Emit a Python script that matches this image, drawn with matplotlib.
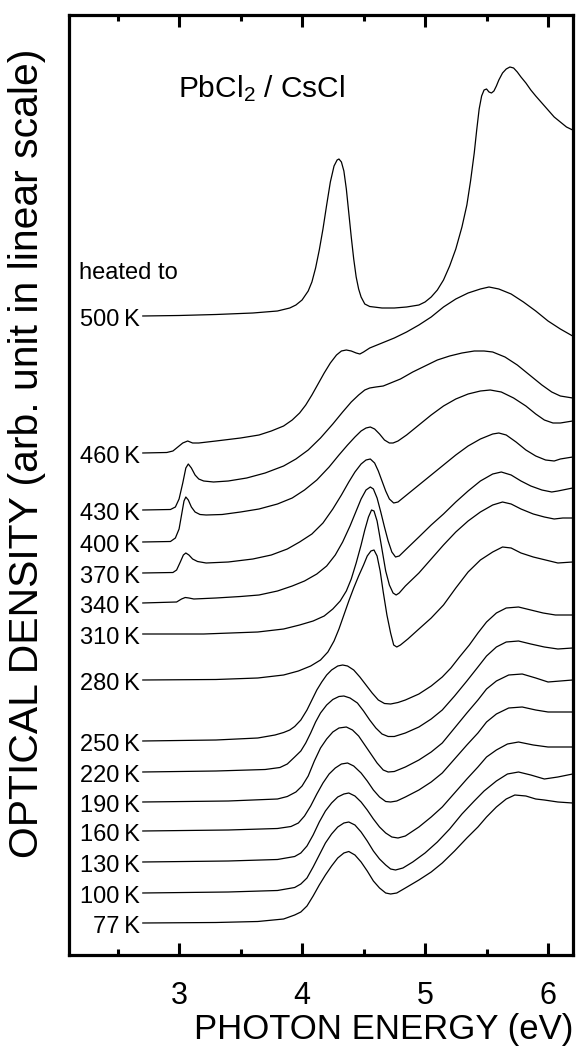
import matplotlib
matplotlib.use("Agg")
import matplotlib.pyplot as plt
from matplotlib.ticker import FixedLocator

plt.rcParams['font.family'] = ['Liberation Sans', 'DejaVu Sans']
plt.rcParams['mathtext.fontset'] = 'custom'
plt.rcParams['mathtext.rm'] = 'Liberation Sans'
plt.rcParams['mathtext.it'] = 'Liberation Sans:italic'

# ---- data (photon energy in eV, optical density in arb. units, stacked) ----
e_500 = [2.70, 3.00, 3.30, 3.60, 3.80, 3.90, 3.95, 4.00, 4.05, 4.08, 4.11, 4.14, 4.17, 4.20, 4.23,
         4.26, 4.285, 4.30, 4.32, 4.34, 4.36, 4.38, 4.40, 4.42, 4.44, 4.46, 4.48, 4.51, 4.55, 4.65,
         4.75, 4.85, 4.95, 5.00, 5.05, 5.10, 5.15, 5.20, 5.25, 5.30, 5.34, 5.37, 5.40, 5.42, 5.44,
         5.46, 5.48, 5.50, 5.52, 5.54, 5.56, 5.58, 5.60, 5.63, 5.66, 5.69, 5.72, 5.75, 5.78, 5.82,
         5.86, 5.90, 5.95, 6.00, 6.05, 6.10, 6.15, 6.20]
od_500 = [63.9, 63.95, 64.05, 64.2, 64.4, 64.7, 65.0, 65.5, 66.4, 67.3, 68.7, 70.5, 72.6, 75.0, 77.3,
          78.9, 79.5, 79.6, 79.3, 78.4, 76.6, 74.2, 71.8, 69.6, 67.8, 66.6, 65.8, 65.1, 64.85, 64.7,
          64.7, 64.8, 65.0, 65.3, 65.8, 66.5, 67.5, 68.9, 70.6, 72.8, 75.0, 77.4, 80.2, 82.5, 84.6,
          85.9, 86.5, 86.6, 86.3, 86.2, 86.4, 86.9, 87.5, 88.2, 88.6, 88.8, 88.7, 88.3, 87.8, 87.2,
          86.5, 85.9, 85.2, 84.5, 83.8, 83.3, 82.8, 82.5]

e_460 = [2.70, 2.90, 2.95, 2.99, 3.03, 3.07, 3.11, 3.16, 3.30, 3.50, 3.65, 3.75, 3.85, 3.92, 3.98,
         4.03, 4.08, 4.13, 4.18, 4.23, 4.28, 4.32, 4.36, 4.40, 4.44, 4.47, 4.50, 4.55, 4.65, 4.75,
         4.85, 4.95, 5.05, 5.15, 5.25, 5.35, 5.45, 5.52, 5.60, 5.70, 5.80, 5.90, 6.00, 6.10, 6.20]
od_460 = [50.2, 50.25, 50.4, 50.8, 51.2, 51.4, 51.2, 51.2, 51.4, 51.7, 52.0, 52.4, 52.9, 53.5, 54.2,
          55.0, 56.0, 57.1, 58.2, 59.2, 60.0, 60.4, 60.5, 60.4, 60.2, 60.1, 60.3, 60.7, 61.2, 61.7,
          62.3, 63.0, 63.8, 64.8, 65.6, 66.2, 66.6, 66.8, 66.6, 66.1, 65.3, 64.4, 63.4, 62.6, 61.9]

e_430 = [2.70, 2.93, 2.97, 3.00, 3.03, 3.055, 3.075, 3.10, 3.13, 3.16, 3.20, 3.28, 3.40, 3.55, 3.70,
         3.85, 3.95, 4.05, 4.15, 4.25, 4.33, 4.40, 4.46, 4.51, 4.55, 4.60, 4.66, 4.72, 4.80, 4.90,
         5.00, 5.10, 5.20, 5.30, 5.40, 5.48, 5.55, 5.65, 5.75, 5.85, 5.95, 6.03, 6.10, 6.20]
od_430 = [44.5, 44.55, 44.8, 45.6, 47.2, 48.7, 49.1, 48.7, 48.0, 47.6, 47.4, 47.3, 47.4, 47.7, 48.2,
          48.9, 49.6, 50.5, 51.7, 53.1, 54.3, 55.3, 56.0, 56.5, 56.7, 56.8, 56.9, 57.2, 57.6, 58.3,
          58.9, 59.5, 59.9, 60.2, 60.4, 60.4, 60.3, 59.8, 59.0, 58.0, 57.0, 56.3, 55.9, 55.7]

e_400 = [2.70, 2.93, 2.97, 3.00, 3.02, 3.04, 3.055, 3.075, 3.10, 3.13, 3.17, 3.22, 3.35, 3.50, 3.65,
         3.80, 3.92, 4.02, 4.12, 4.22, 4.30, 4.37, 4.43, 4.48, 4.52, 4.555, 4.59, 4.63, 4.67, 4.71,
         4.74, 4.78, 4.85, 4.95, 5.05, 5.15, 5.25, 5.35, 5.45, 5.53, 5.62, 5.72, 5.82, 5.90, 5.97,
         6.04, 6.10, 6.20]
od_400 = [41.3, 41.35, 41.7, 42.6, 44.0, 45.4, 45.8, 45.5, 44.8, 44.3, 44.05, 44.0, 44.05, 44.3, 44.6,
          45.1, 45.7, 46.5, 47.5, 48.8, 50.0, 51.0, 51.8, 52.4, 52.7, 52.8, 52.6, 52.1, 51.5, 51.2,
          51.2, 51.4, 52.0, 53.0, 54.0, 54.9, 55.6, 56.1, 56.4, 56.5, 56.3, 55.7, 54.9, 54.1, 53.5,
          53.2, 53.2, 53.4]

e_370 = [2.70, 2.95, 2.98, 3.01, 3.035, 3.055, 3.08, 3.11, 3.15, 3.22, 3.40, 3.60, 3.75, 3.88, 3.98,
         4.08, 4.17, 4.25, 4.32, 4.38, 4.43, 4.48, 4.52, 4.555, 4.59, 4.62, 4.65, 4.68, 4.71, 4.745,
         4.78, 4.84, 4.95, 5.05, 5.15, 5.25, 5.35, 5.45, 5.55, 5.60, 5.66, 5.74, 5.82, 5.90, 5.98,
         6.05, 6.10, 6.20]
od_370 = [38.2, 38.25, 38.5, 39.3, 40.0, 40.2, 40.0, 39.6, 39.35, 39.2, 39.3, 39.6, 40.0, 40.6, 41.3,
          42.1, 43.2, 44.6, 46.0, 47.3, 48.3, 49.1, 49.5, 49.6, 49.2, 48.4, 47.4, 46.4, 45.6, 45.2,
          45.3, 45.9, 47.0, 48.0, 49.0, 50.0, 50.9, 51.6, 52.1, 52.2, 52.0, 51.3, 50.5, 49.9, 49.5,
          49.4, 49.6, 49.8]

e_340 = [2.70, 2.98, 3.02, 3.05, 3.08, 3.12, 3.30, 3.50, 3.65, 3.80, 3.92, 4.02, 4.12, 4.20, 4.27,
         4.33, 4.39, 4.44, 4.48, 4.52, 4.555, 4.58, 4.61, 4.64, 4.67, 4.70, 4.73, 4.76, 4.79, 4.84,
         4.95, 5.05, 5.15, 5.25, 5.35, 5.45, 5.55, 5.62, 5.70, 5.78, 5.86, 5.95, 6.03, 6.08, 6.20]
od_340 = [35.2, 35.3, 35.6, 35.75, 35.7, 35.6, 35.7, 35.85, 36.0, 36.4, 36.9, 37.4, 38.1, 38.9, 40.0,
          41.3, 42.9, 44.4, 45.6, 46.5, 46.8, 46.6, 45.7, 44.3, 42.8, 41.4, 40.3, 39.8, 39.9, 40.5,
          41.8, 43.0, 44.1, 45.3, 46.4, 47.4, 48.1, 48.3, 48.0, 47.4, 46.9, 46.5, 46.3, 46.4, 46.7]

e_310 = [2.70, 3.20, 3.64, 3.85, 3.98, 4.09, 4.18, 4.25, 4.31, 4.36, 4.40, 4.44, 4.48, 4.51, 4.54,
         4.565, 4.585, 4.61, 4.63, 4.655, 4.68, 4.71, 4.74, 4.765, 4.79, 4.84, 4.95, 5.05, 5.15,
         5.25, 5.35, 5.45, 5.55, 5.63, 5.70, 5.78, 5.88, 5.97, 6.05, 6.12, 6.20]
od_310 = [32.1, 32.1, 32.3, 32.6, 33.0, 33.4, 33.9, 34.6, 35.4, 36.4, 37.6, 39.2, 41.0, 42.5, 43.8,
          44.5, 44.4, 43.4, 42.0, 40.2, 38.4, 37.0, 36.2, 36.0, 36.2, 36.9, 38.2, 39.6, 41.0,
          42.3, 43.4, 44.3, 45.0, 45.3, 45.1, 44.6, 44.1, 43.8, 43.6, 43.7, 43.7]

e_280 = [2.70, 3.30, 3.64, 3.85, 3.97, 4.07, 4.15, 4.21, 4.26, 4.30, 4.34, 4.38, 4.42, 4.46, 4.50,
         4.53, 4.56, 4.585, 4.61, 4.635, 4.66, 4.69, 4.72, 4.745, 4.77, 4.80, 4.86, 4.95, 5.05,
         5.15, 5.25, 5.35, 5.45, 5.55, 5.63, 5.70, 5.78, 5.88, 5.98, 6.08, 6.20]
od_280 = [27.5, 27.55, 27.7, 28.0, 28.4, 28.9, 29.5, 30.3, 31.4, 32.6, 34.0, 35.4, 36.7, 37.9, 39.0,
          39.9, 40.4, 40.5, 39.9, 38.4, 36.3, 34.0, 32.2, 31.0, 30.8, 31.0, 31.6, 32.6, 33.7,
          35.0, 36.7, 38.3, 39.5, 40.3, 40.8, 40.7, 40.2, 39.8, 39.5, 39.2, 39.3]

e_250 = [2.70, 3.30, 3.64, 3.78, 3.85, 3.90, 3.94, 3.99, 4.04, 4.08, 4.12, 4.16, 4.20, 4.24, 4.29,
         4.33, 4.37, 4.42, 4.47, 4.52, 4.57, 4.62, 4.67, 4.72, 4.78, 4.84, 4.95, 5.05, 5.14, 5.21,
         5.28, 5.36, 5.43, 5.50, 5.58, 5.66, 5.76, 5.86, 5.96, 6.06, 6.20]
od_250 = [21.4, 21.5, 21.7, 22.0, 22.25, 22.5, 22.85, 23.5, 24.5, 25.5, 26.5, 27.3, 28.0, 28.5, 28.9,
          29.0, 28.9, 28.5, 27.8, 27.0, 26.2, 25.5, 25.15, 25.1, 25.25, 25.5, 26.1, 26.9, 27.8, 28.7,
          29.8, 31.0, 32.2, 33.3, 34.2, 34.7, 34.8, 34.5, 34.2, 34.0, 34.0]

e_220 = [2.70, 3.30, 3.70, 3.82, 3.88, 3.94, 3.99, 4.03, 4.07, 4.11, 4.15, 4.20, 4.25, 4.30, 4.34,
         4.39, 4.45, 4.50, 4.55, 4.60, 4.65, 4.70, 4.75, 4.84, 4.95, 5.05, 5.14, 5.24, 5.34, 5.43,
         5.50, 5.58, 5.66, 5.76, 5.86, 5.97, 6.08, 6.20]
od_220 = [18.3, 18.4, 18.55, 18.75, 19.1, 19.8, 20.4, 21.2, 22.2, 23.3, 24.2, 25.0, 25.55, 25.85, 25.9,
          25.7, 25.2, 24.4, 23.5, 22.7, 22.1, 21.85, 21.85, 22.2, 22.8, 23.6, 24.5, 25.9, 27.4, 28.8,
          29.9, 30.8, 31.3, 31.4, 31.1, 30.8, 30.6, 30.7]

e_190 = [2.70, 3.40, 3.80, 3.88, 3.95, 4.00, 4.05, 4.10, 4.15, 4.20, 4.25, 4.30, 4.36, 4.41, 4.46,
         4.51, 4.56, 4.61, 4.66, 4.70, 4.75, 4.84, 4.95, 5.05, 5.14, 5.24, 5.34, 5.43, 5.50, 5.58,
         5.68, 5.79, 5.90, 6.00, 6.10, 6.20]
od_190 = [15.3, 15.4, 15.6, 15.85, 16.3, 16.9, 17.9, 19.4, 20.7, 21.6, 22.3, 22.7, 22.8, 22.5, 21.9,
          21.0, 20.1, 19.2, 18.5, 18.3, 18.35, 18.8, 19.5, 20.3, 21.2, 22.7, 24.2, 25.5, 26.6, 27.4,
          28.0, 28.1, 27.7, 27.3, 27.4, 27.5]

e_160 = [2.70, 3.40, 3.80, 3.91, 3.97, 4.02, 4.07, 4.12, 4.17, 4.22, 4.27, 4.32, 4.37, 4.42, 4.48,
         4.53, 4.58, 4.63, 4.68, 4.72, 4.77, 4.84, 4.95, 5.05, 5.14, 5.24, 5.34, 5.43, 5.50, 5.58,
         5.68, 5.79, 5.90, 6.00, 6.10, 6.20]
od_160 = [12.4, 12.5, 12.65, 12.85, 13.2, 13.9, 14.9, 16.1, 17.2, 18.1, 18.7, 19.1, 19.2, 18.9, 18.2,
          17.4, 16.5, 15.8, 15.35, 15.3, 15.4, 15.8, 16.5, 17.3, 18.2, 19.6, 21.0, 22.2, 23.3, 24.1,
          24.7, 24.8, 24.5, 24.3, 24.3, 24.3]

e_130 = [2.70, 3.40, 3.80, 3.94, 3.99, 4.04, 4.09, 4.14, 4.19, 4.24, 4.29, 4.34, 4.38, 4.43, 4.48,
         4.53, 4.58, 4.63, 4.68, 4.73, 4.78, 4.84, 4.95, 5.05, 5.14, 5.24, 5.34, 5.43, 5.50, 5.58,
         5.67, 5.76, 5.88, 6.00, 6.10, 6.20]
od_130 = [9.3, 9.4, 9.55, 9.85, 10.2, 10.9, 12.0, 13.3, 14.4, 15.2, 15.8, 16.1, 16.2, 15.9, 15.3,
          14.5, 13.6, 12.8, 12.2, 11.8, 11.7, 11.9, 12.8, 13.8, 14.8, 16.2, 17.6, 18.8, 19.8, 20.5,
          21.1, 21.3, 21.0, 20.8, 20.8, 20.8]

e_100 = [2.70, 3.40, 3.80, 3.94, 3.99, 4.04, 4.09, 4.14, 4.19, 4.24, 4.29, 4.34, 4.38, 4.43, 4.48,
         4.53, 4.58, 4.63, 4.68, 4.72, 4.76, 4.82, 4.90, 5.00, 5.10, 5.20, 5.30, 5.40, 5.48, 5.58,
         5.67, 5.76, 5.86, 5.97, 6.08, 6.20]
od_100 = [6.2, 6.3, 6.45, 6.75, 7.1, 7.7, 8.8, 10.0, 11.2, 12.1, 12.8, 13.2, 13.3, 13.0, 12.3,
          11.4, 10.4, 9.6, 9.0, 8.6, 8.5, 8.7, 9.3, 10.2, 11.3, 12.6, 14.1, 15.4, 16.4, 17.4,
          18.1, 18.3, 18.0, 17.6, 17.8, 18.1]

e_77 = [2.70, 3.30, 3.64, 3.85, 3.94, 3.99, 4.04, 4.09, 4.14, 4.19, 4.24, 4.29, 4.34, 4.38, 4.43,
        4.48, 4.53, 4.58, 4.63, 4.68, 4.72, 4.77, 4.84, 4.95, 5.05, 5.14, 5.24, 5.34, 5.43, 5.50,
        5.58, 5.66, 5.73, 5.82, 5.90, 5.97, 6.08, 6.20]
od_77 = [3.2, 3.25, 3.35, 3.6, 4.0, 4.3, 4.9, 5.9, 7.0, 8.0, 8.9, 9.7, 10.2, 10.35, 10.0,
         9.3, 8.4, 7.4, 6.7, 6.2, 6.1, 6.2, 6.7, 7.5, 8.3, 9.2, 10.4, 11.7, 12.8, 13.8,
         14.8, 15.6, 16.0, 15.9, 15.6, 15.5, 15.3, 15.2]

temps = ["500", "460", "430", "400", "370", "340", "310", "280",
         "250", "220", "190", "160", "130", "100", "77"]
energies = [e_500, e_460, e_430, e_400, e_370, e_340, e_310, e_280,
            e_250, e_220, e_190, e_160, e_130, e_100, e_77]
densities = [od_500, od_460, od_430, od_400, od_370, od_340, od_310, od_280,
             od_250, od_220, od_190, od_160, od_130, od_100, od_77]

x_major = [3, 4, 5, 6]
x_minor = [2.5, 3.5, 4.5, 5.5]

# ---- figure ----
W, H = 578, 1055
fig = plt.figure(figsize=(W / 100, H / 100), dpi=100)
ax = fig.add_axes([69 / W, 1 - 955 / H, 504 / W, 940 / H])

for e, od, t in zip(energies, densities, temps):
    ax.plot(e, od, color='black', lw=0.9, solid_joinstyle='round', solid_capstyle='butt')
    ax.annotate(t + "\u2009K", xy=(e[0], od[0]), xytext=(-2, -3), textcoords='offset points',
                ha='right', va='center', fontsize=17)

ax.set_xlim(2.105, 6.203)
ax.set_ylim(0, 94)
ax.set_yticks([])
ax.xaxis.set_major_locator(FixedLocator(x_major))
ax.xaxis.set_minor_locator(FixedLocator(x_minor))
ax.tick_params(axis='x', which='both', direction='in', top=True, bottom=True, width=2.2)
ax.tick_params(axis='x', which='major', length=8.6, labelsize=22, pad=19)
ax.tick_params(axis='x', which='minor', length=4.3)
for s in ax.spines.values():
    s.set_linewidth(2.3)

ax.text(0.0198, 0.7255, "heated to", transform=ax.transAxes, ha='left', va='center', fontsize=17)
ax.text(0.2163, 0.9213, r"PbCl$_2$ / CsCl", transform=ax.transAxes, ha='left', va='center',
        fontsize=21.5)

fig.text(27 / W, 1 - 453.5 / H, "OPTICAL DENSITY (arb. unit in linear scale)", rotation=90,
         ha='center', va='center', fontsize=29.4)
fig.text(383.5 / W, 1 - 1029 / H, "PHOTON ENERGY (eV)", ha='center', va='center', fontsize=25)

fig.savefig("out.png", dpi=100)
